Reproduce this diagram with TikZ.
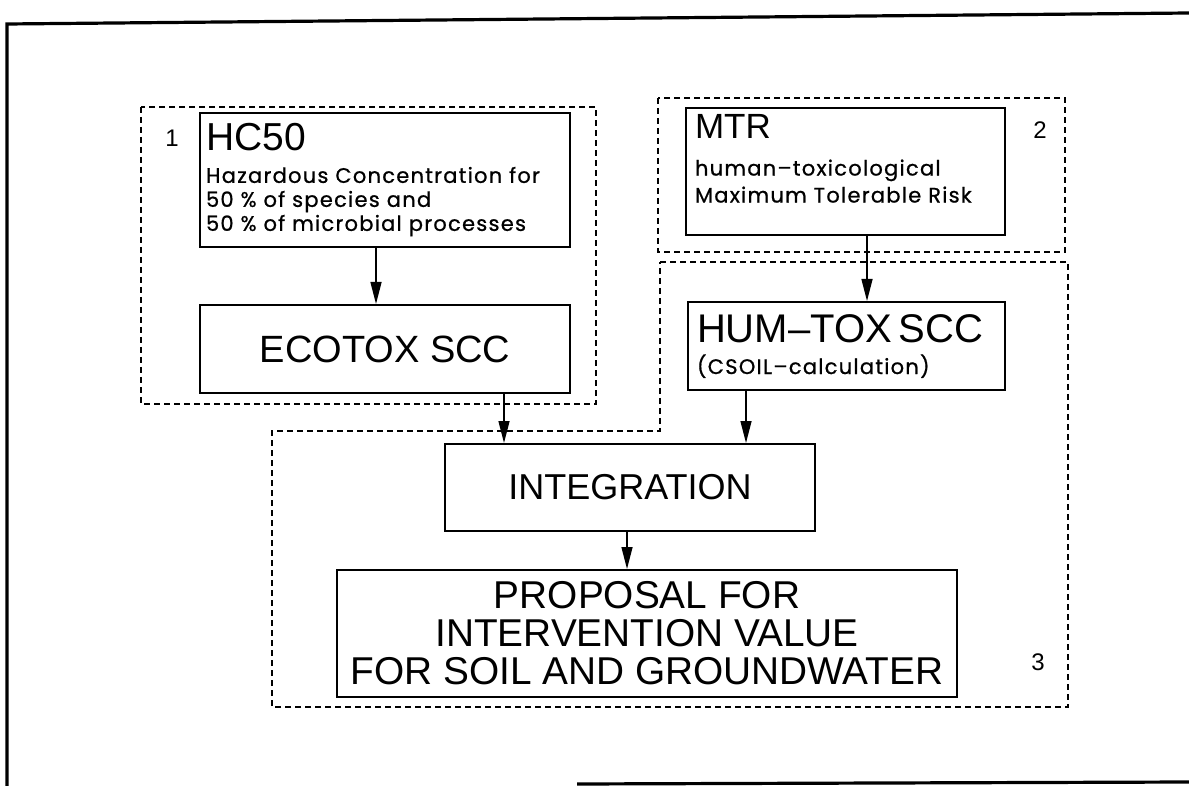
\documentclass[tikz,border=0pt]{standalone}
\usepackage{fontspec}
\usetikzlibrary{arrows.meta}
\setmainfont{Liberation Sans}
\newfontfamily\plotf{Liberation Sans}
\newfontfamily\gothf[LetterSpace=6,FakeBold=0.8]{Poppins}

\tikzstyle{blk} = [draw, line width=1pt, inner xsep=3pt, inner ysep=2pt]
\tikzstyle{txt} = [blk, align=left, font=\gothf\fontsize{10.5}{12}\selectfont]
\tikzstyle{grp} = [line width=0.9pt, dash pattern=on 3pt off 2pt]
\tikzstyle{frm} = [line width=1.6pt]
\tikzstyle{arr} = [-{Triangle[length=11pt,width=5.5pt]}, line width=0.7pt]
\tikzstyle{num} = [font=\plotf\fontsize{12}{12}\selectfont, inner sep=0pt]

\begin{document}
\begin{tikzpicture}[x=0.5pt, y=-0.5pt]
  \useasboundingbox (0,0) rectangle (1189,786);
  % frame of the page
  \draw[frm] (1189,13) -- (7,24) -- (7,786);
  \draw[frm] (577,784) -- (1189,782);
  % dashed groups
  \draw[grp] (141,107) rectangle (596,404);
  \draw[grp] (658,98) rectangle (1065,252);
  \draw[grp] (660,262) -- (1068,262) -- (1068,707) -- (272,707) -- (272,431) -- (660,431) -- cycle;
  \node[num] (n1) at (172,138) {1};
  \node[num] (n2) at (1040,130) {2};
  \node[num] (n3) at (1038,662) {3};
  % boxes
  \node[txt, text width=179pt, minimum width=185pt, minimum height=67pt] (hc) at (385,180)
    {{\plotf\fontsize{19.5}{20}\selectfont HC50}\\[4pt]
     Hazardous Concentration for\\
     50 \% of species and\\
     50 \% of microbial processes};
  \node[blk, minimum width=185pt, minimum height=44pt,
        font=\plotf\fontsize{19}{20}\selectfont] (eco) at (385,349) {ECOTOX SCC};
  \node[txt, inner xsep=4.5pt, text width=150.5pt, minimum width=159.5pt, minimum height=63.5pt] (mtr) at (845.5,171.5)
    {{\plotf\fontsize{17.5}{18}\selectfont MTR}\\[6.5pt]
     human–toxicological\\[1.5pt]
     Maximum Tolerable Risk\\[1pt]
     \mbox{}};
  \node[txt, inner xsep=4.5pt, text width=149.5pt, minimum width=158.5pt, minimum height=44pt] (hum) at (846.5,346)
    {{\plotf\fontsize{20}{20}\selectfont HUM–TOX SCC}\\[4pt]
     (CSOIL–calculation)};
  \node[blk, minimum width=185pt, minimum height=43.5pt,
        font=\plotf\fontsize{18}{20}\selectfont] (integ) at (630,487.5) {INTEGRATION};
  \node[blk, align=center, minimum width=310pt, minimum height=63.5pt,
        font=\plotf\fontsize{19.4}{19}\selectfont] (prop) at (647,633.5)
    {PROPOSAL FOR\\INTERVENTION VALUE\\FOR SOIL AND GROUNDWATER};
  % arrows
  \draw[arr] ([xshift=-4.5pt]hc.south) -- ([xshift=-4.5pt]eco.north);
  \draw[arr] ([xshift=10.75pt]mtr.south) -- ([xshift=10.75pt]mtr.south |- hum.north);
  \draw[arr] ([xshift=59.5pt]eco.south) -- ([xshift=59.5pt]eco.south |- integ.north);
  \draw[arr] ([xshift=-50.25pt]hum.south) -- ([xshift=-50.25pt]hum.south |- integ.north);
  \draw[arr] ([xshift=-1.5pt]integ.south) -- ([xshift=-1.5pt]integ.south |- prop.north);
\end{tikzpicture}
\end{document}
